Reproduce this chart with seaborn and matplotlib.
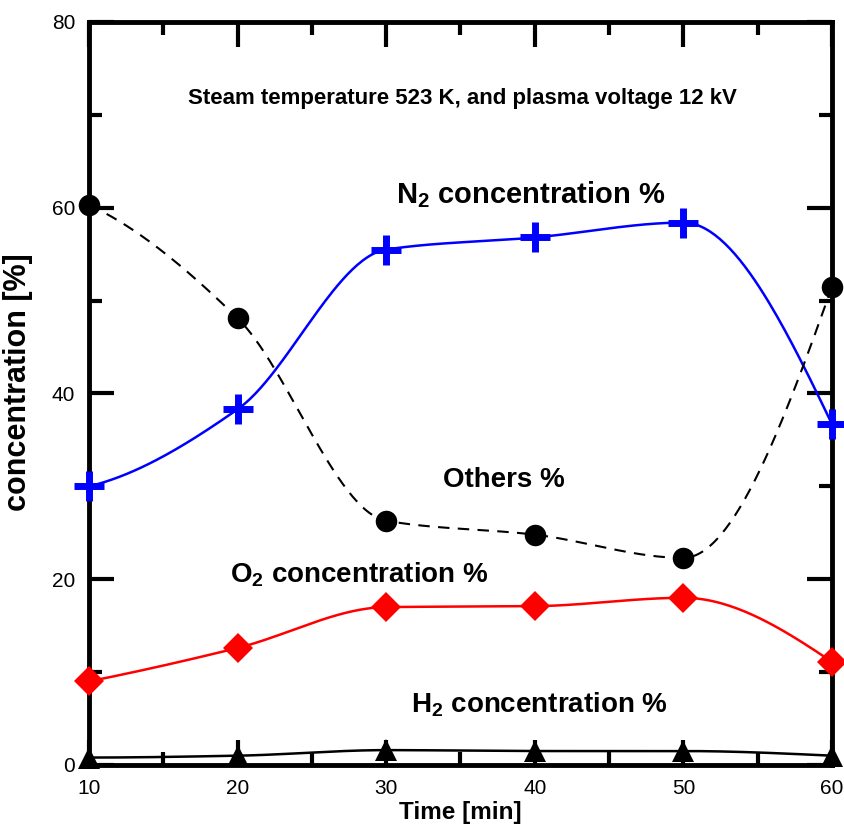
import numpy as np
import matplotlib
matplotlib.use("Agg")
import matplotlib.pyplot as plt
import seaborn as sns

# values
time_min = [10, 20, 30, 40, 50, 60]
n2_conc = [30.0, 38.3, 55.5, 56.8, 58.4, 36.7]
others_conc = [60.3, 48.1, 26.3, 24.8, 22.3, 51.5]
o2_conc = [9.0, 12.6, 17.0, 17.1, 18.0, 11.1]
h2_conc = [0.8, 1.0, 1.6, 1.5, 1.5, 1.0]

x_ticks = [10, 20, 30, 40, 50, 60]
y_ticks = [0, 20, 40, 60, 80]


def smooth(xs, ys, n=300):
    # monotone cubic (pchip) curve through the measured points, for drawing only
    x = np.asarray(xs, float)
    y = np.asarray(ys, float)
    h = np.diff(x)
    delta = np.diff(y) / h
    m = len(x)
    d = np.zeros(m)
    for k in range(1, m - 1):
        if delta[k - 1] * delta[k] > 0:
            w1 = 2 * h[k] + h[k - 1]
            w2 = h[k] + 2 * h[k - 1]
            d[k] = (w1 + w2) / (w1 / delta[k - 1] + w2 / delta[k])

    def end(h0, h1, d0, d1):
        v = ((2 * h0 + h1) * d0 - h0 * d1) / (h0 + h1)
        if np.sign(v) != np.sign(d0):
            return 0.0
        if np.sign(d0) != np.sign(d1) and abs(v) > abs(3 * d0):
            return 3 * d0
        return v

    d[0] = end(h[0], h[1], delta[0], delta[1])
    d[-1] = end(h[-1], h[-2], delta[-1], delta[-2])

    xf = np.linspace(x[0], x[-1], n)
    idx = np.clip(np.searchsorted(x, xf) - 1, 0, m - 2)
    t = (xf - x[idx]) / h[idx]
    h00 = 2 * t ** 3 - 3 * t ** 2 + 1
    h10 = t ** 3 - 2 * t ** 2 + t
    h01 = -2 * t ** 3 + 3 * t ** 2
    h11 = t ** 3 - t ** 2
    yf = h00 * y[idx] + h10 * h[idx] * d[idx] + h01 * y[idx + 1] + h11 * h[idx] * d[idx + 1]
    return xf, yf


def main() -> None:
    sns.set_theme(style="white")
    plt.rcParams["font.family"] = ["Liberation Sans", "DejaVu Sans"]
    plt.rcParams["mathtext.fontset"] = "custom"
    plt.rcParams["mathtext.rm"] = "Liberation Sans:bold"
    plt.rcParams["mathtext.bf"] = "Liberation Sans:bold"
    for key in ["text.color", "axes.labelcolor", "xtick.color", "ytick.color"]:
        plt.rcParams[key] = "black"

    fig = plt.figure(figsize=(8.45, 8.27), dpi=100)
    ax = fig.add_axes([0.1053, 0.075, 0.8793, 0.8984])

    series = [
        (n2_conc, "#0000ff", "-", "+", 21, 5),
        (others_conc, "black", "--", "o", 15.5, 0),
        (o2_conc, "#ff0000", "-", "D", 15, 0),
        (h2_conc, "black", "-", "^", 16, 0),
    ]
    for vals, col, ls, mk, ms, mew in series:
        xf, yf = smooth(time_min, vals)
        sns.lineplot(x=xf, y=yf, ax=ax, color=col, linewidth=1.8 if ls == "-" else 1.5,
                     sort=False)
        if ls == "--":
            ax.lines[-1].set_dashes((5.5, 4))
        ax.plot(time_min, vals, linestyle="none", marker=mk, markersize=ms,
                markeredgewidth=mew, color=col, clip_on=False, zorder=5)

    ax.set_xlim(10, 60)
    ax.set_ylim(0, 80)
    ax.set_xticks(x_ticks)
    ax.set_yticks(y_ticks)
    ax.set_xticks([15, 25, 35, 45, 55], minor=True)
    ax.set_yticks([10, 30, 50, 70], minor=True)
    ax.tick_params(which="major", direction="in", length=18, width=3,
                   left=True, bottom=True, top=True, right=True,
                   labelsize=15, pad=10)
    ax.tick_params(which="minor", direction="in", length=9.5, width=3,
                   left=True, bottom=True, top=True, right=True)
    for sp in ax.spines.values():
        sp.set_linewidth(3.5)
        sp.set_color("black")

    ax.set_xlabel("Time [min]", fontsize=17.5, fontweight="bold", va="center")
    ax.set_ylabel("concentration [%]", fontsize=22, fontweight="bold", va="center")
    ax.xaxis.set_label_coords(0.5, -0.0633)
    ax.yaxis.set_label_coords(-0.0956, 0.515)

    ax.text(35.1, 71.8, "Steam temperature 523 K, and plasma voltage 12 kV",
            fontsize=16, fontweight="bold", ha="center", va="center")
    ax.text(39.7, 61.4, r"N$_2$ concentration %", fontsize=21, fontweight="bold",
            ha="center", va="center")
    ax.text(37.9, 30.7, "Others %", fontsize=20, fontweight="bold",
            ha="center", va="center")
    ax.text(28.2, 20.5, r"O$_2$ concentration %", fontsize=20, fontweight="bold",
            ha="center", va="center")
    ax.text(40.3, 6.5, r"H$_2$ concentration %", fontsize=20, fontweight="bold",
            ha="center", va="center")

    fig.savefig("out.png", dpi=100)
    plt.close(fig)


if __name__ == "__main__":
    main()
